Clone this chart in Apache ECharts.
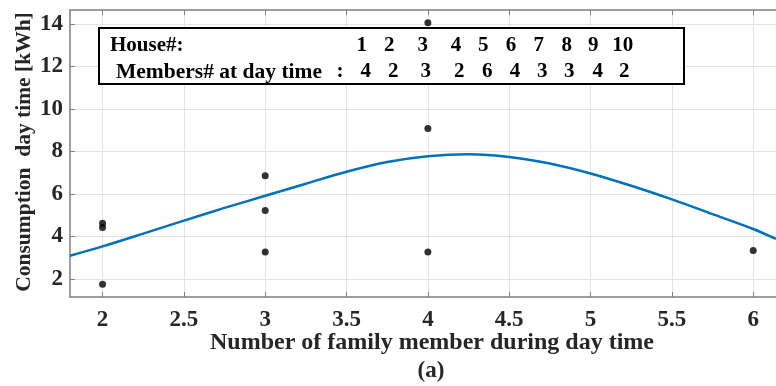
<!DOCTYPE html>
<html><head><meta charset="utf-8">
<script src="https://cdn.jsdelivr.net/npm/echarts@6/dist/echarts.min.js"></script>
<style>html,body{margin:0;padding:0;background:#fff}#c{width:776px;height:386px}</style>
</head><body><div id="c"></div>
<script>
// ---- data ----
const membersX = [2, 2, 2, 3, 3, 3, 4, 4, 4, 6];
const consumption = [4.62, 4.42, 1.75, 6.85, 5.22, 3.27, 14.05, 9.08, 3.27, 3.34];
const fitX = [1.8, 2.0, 2.25, 2.5, 2.75, 3.0, 3.25, 3.5, 3.75, 4.0, 4.25, 4.5, 4.75, 5.0, 5.25, 5.5, 5.75, 6.0, 6.14];
const fitY = [3.09, 3.53, 4.13, 4.74, 5.34, 5.91, 6.48, 7.04, 7.50, 7.77, 7.86, 7.74, 7.43, 6.96, 6.38, 5.74, 5.05, 4.35, 3.88];
const xTicks = [2, 2.5, 3, 3.5, 4, 4.5, 5, 5.5, 6];
const yTicks = [2, 4, 6, 8, 10, 12, 14];
const houseIds = ['1', '2', '3', '4', '5', '6', '7', '8', '9', '10'];
const houseMembers = ['4', '2', '3', '2', '6', '4', '3', '3', '4', '2'];
const xTitle = 'Number of family member during day time';
const yTitle = 'Consumption  day time [kWh]';
const subLabel = '(a)';
const legendRow1 = 'House#:';
const legendRow2 = 'Members# at day time';

// ---- layout ----
const FONT = '"Liberation Serif","Times New Roman",serif';
const row1X = [361.7, 389.3, 422.7, 456, 483.3, 511, 538.7, 566.7, 593.3, 622.7];
const row2X = [365.7, 393.3, 425.7, 459.3, 487.3, 515, 542.3, 569.3, 597.7, 624.3];
const axisCol = '#7f7f7f';
const txtCol = '#262626';

const chart = echarts.init(document.getElementById('c'), null, {renderer: 'canvas'});

const graphics = [
  {type: 'rect', z: 100, shape: {x: 99, y: 28, width: 585, height: 56},
   style: {fill: '#fff', stroke: '#000', lineWidth: 2}},
  {type: 'text', z: 101, x: 110, y: 46, style: {text: legendRow1, font: 'bold 21px ' + FONT, fill: '#000', align: 'left', verticalAlign: 'middle'}},
  {type: 'text', z: 101, x: 116, y: 72, style: {text: legendRow2, font: 'bold 21.5px ' + FONT, fill: '#000', align: 'left', verticalAlign: 'middle'}},
  {type: 'text', z: 101, x: 340, y: 72, style: {text: ':', font: 'bold 21px ' + FONT, fill: '#000', align: 'center', verticalAlign: 'middle'}},
  {type: 'text', z: 50, x: 432, y: 343, style: {text: xTitle, font: 'bold 24px ' + FONT, fill: txtCol, align: 'center', verticalAlign: 'middle'}},
  {type: 'text', z: 50, x: 431, y: 371, style: {text: subLabel, font: 'bold 23px ' + FONT, fill: txtCol, align: 'center', verticalAlign: 'middle'}},
  {type: 'text', z: 50, x: 24, y: 152, rotation: Math.PI / 2, style: {text: yTitle, font: 'bold 21.5px ' + FONT, fill: txtCol, align: 'center', verticalAlign: 'middle'}}
];
houseIds.forEach((t, i) => graphics.push({type: 'text', z: 101, x: row1X[i], y: 46,
  style: {text: t, font: 'bold 21px ' + FONT, fill: '#000', align: 'center', verticalAlign: 'middle'}}));
houseMembers.forEach((t, i) => graphics.push({type: 'text', z: 101, x: row2X[i], y: 72,
  style: {text: t, font: 'bold 21px ' + FONT, fill: '#000', align: 'center', verticalAlign: 'middle'}}));

const option = {
  backgroundColor: '#fff',
  animation: false,
  grid: {left: 70, top: 10, right: 0, bottom: 89},
  xAxis: [{
    type: 'value', min: 1.8, max: 6.14, position: 'bottom',
    axisLine: {show: true, onZero: false, lineStyle: {color: axisCol, width: 1.5}},
    axisTick: {show: true, inside: true, length: 5, customValues: xTicks, lineStyle: {color: axisCol, width: 1}},
    axisLabel: {customValues: xTicks, margin: 12, color: txtCol, fontFamily: FONT, fontWeight: 'bold', fontSize: 23},
    splitLine: {show: true, lineStyle: {color: '#e3e3e3', width: 1}}
  }, {
    type: 'value', min: 1.8, max: 6.14, position: 'top',
    axisLine: {show: true, onZero: false, lineStyle: {color: axisCol, width: 1.5}},
    axisTick: {show: true, inside: true, length: 5, customValues: xTicks, lineStyle: {color: axisCol, width: 1}},
    axisLabel: {show: false},
    splitLine: {show: false}
  }],
  yAxis: [{
    type: 'value', min: 1.15, max: 14.65,
    axisLine: {show: true, onZero: false, lineStyle: {color: axisCol, width: 1.5}},
    axisTick: {show: true, inside: true, length: 5, customValues: yTicks, lineStyle: {color: axisCol, width: 1}},
    axisLabel: {customValues: yTicks, margin: 7, color: txtCol, fontFamily: FONT, fontWeight: 'bold', fontSize: 23},
    splitLine: {show: true, lineStyle: {color: '#e3e3e3', width: 1}}
  }],
  series: [{
    type: 'line', xAxisIndex: 0, yAxisIndex: 0, smooth: 0.3, showSymbol: false,
    data: fitX.map((x, i) => [x, fitY[i]]),
    lineStyle: {color: '#0072BD', width: 2.5}, z: 3
  }, {
    type: 'scatter', xAxisIndex: 0, yAxisIndex: 0, symbolSize: 7,
    data: membersX.map((x, i) => [x, consumption[i]]),
    itemStyle: {color: '#000'}, z: 4
  }],
  graphic: graphics
};
chart.setOption(option);
</script>
</body></html>
